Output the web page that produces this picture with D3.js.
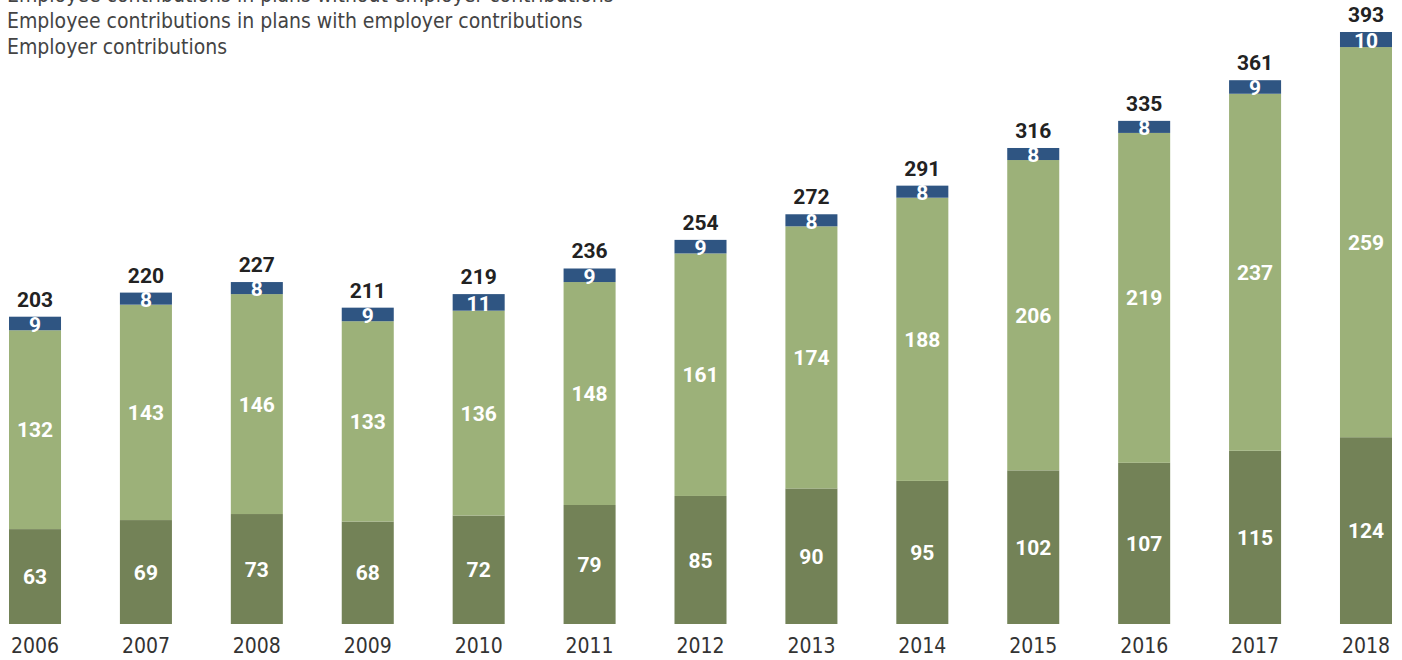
<!DOCTYPE html>
<html>
<head>
<meta charset="utf-8">
<script src="https://d3js.org/d3.v7.min.js"></script>
<style>
  body { margin: 0; background: #fff; }
  text { font-family: "DejaVu Sans Condensed", "DejaVu Sans", sans-serif; }
  .num { font-family: Roboto, "DejaVu Sans Condensed", sans-serif; }
</style>
</head>
<body>
<div id="canvas"></div>
<script>
"use strict"

// values
let years = ["2006","2007","2008","2009","2010","2011","2012","2013","2014","2015","2016","2017","2018"]
let employer = [63, 69, 73, 68, 72, 79, 85, 90, 95, 102, 107, 115, 124]
let employeeWith = [132, 143, 146, 133, 136, 148, 161, 174, 188, 206, 219, 237, 259]
let employeeWithout = [9, 8, 8, 9, 11, 9, 9, 8, 8, 8, 8, 9, 10]
let totals = [203, 220, 227, 211, 219, 236, 254, 272, 291, 316, 335, 361, 393]
let legendLabels = ["Employee contributions in plans without employer contributions",
                    "Employee contributions in plans with employer contributions",
                    "Employer contributions"]

let colors = ["#2f5582", "#9cb179", "#738257"]

let W = 1402, H = 660

let drawing = d3.select("#canvas")
    .append("svg")
    .attr("width", W)
    .attr("height", H)

/* x goes over the years, y is in the same units as the numbers */
let x = d3.scaleBand()
    .domain(years)
    .range([9, 1392])
    .paddingInner(0.531)
    .paddingOuter(0)

let y = d3.scaleLinear()
    .domain([0, 393])
    .range([624, 32])

let rows = years.map((yr, i) => ({
    year: yr,
    employer: employer[i],
    employeeWith: employeeWith[i],
    employeeWithout: employeeWithout[i],
    total: totals[i]
}))

let keys = ["employer", "employeeWith", "employeeWithout"]
let stack = d3.stack().keys(keys)(rows)
let keyColor = {employer: colors[2], employeeWith: colors[1], employeeWithout: colors[0]}

/* the bars */
let layers = drawing.append("g")
    .selectAll("g")
    .data(stack)
    .join("g")
    .attr("fill", d => keyColor[d.key])

layers.selectAll("rect")
    .data(d => d)
    .join("rect")
    .attr("x", d => x(d.data.year))
    .attr("y", d => y(d[1]))
    .attr("width", x.bandwidth())
    .attr("height", d => y(d[0]) - y(d[1]))

/* white numbers inside each piece */
layers.selectAll("text")
    .data(d => d.map(p => ({p: p, key: d.key})))
    .join("text")
    .attr("class", "num")
    .attr("x", d => x(d.p.data.year) + x.bandwidth() / 2)
    .attr("y", d => (y(d.p[0]) + y(d.p[1])) / 2)
    .attr("dy", d => d.key == "employeeWithout" ? "0.4em" : "0.36em")
    .attr("text-anchor", "middle")
    .attr("fill", "white")
    .attr("font-weight", "bold")
    .attr("font-size", 21)
    .text(d => d.p.data[d.key])

/* totals over the bars */
drawing.append("g")
    .selectAll("text")
    .data(rows)
    .join("text")
    .attr("class", "num")
    .attr("x", d => x(d.year) + x.bandwidth() / 2)
    .attr("y", d => y(d.employer + d.employeeWith + d.employeeWithout) - 10)
    .attr("text-anchor", "middle")
    .attr("fill", "#222")
    .attr("font-weight", "bold")
    .attr("font-size", 21)
    .text(d => d.total)

/* year labels, no axis line */
let xAxis = drawing.append("g")
    .attr("transform", "translate(0,624)")
    .call(d3.axisBottom(x).tickSize(0).tickPadding(14))
xAxis.select(".domain").remove()
xAxis.selectAll("text")
    .attr("font-family", null)
    .attr("font-size", 21)
    .attr("fill", "#333")

/* legend, just text lines in the top left, the first one is cut off */
drawing.append("g")
    .selectAll("text")
    .data(legendLabels)
    .join("text")
    .attr("x", 7)
    .attr("y", (d, i) => 2 + i * 26)
    .attr("font-size", 21)
    .attr("fill", "#444")
    .text(d => d)
</script>
</body>
</html>
